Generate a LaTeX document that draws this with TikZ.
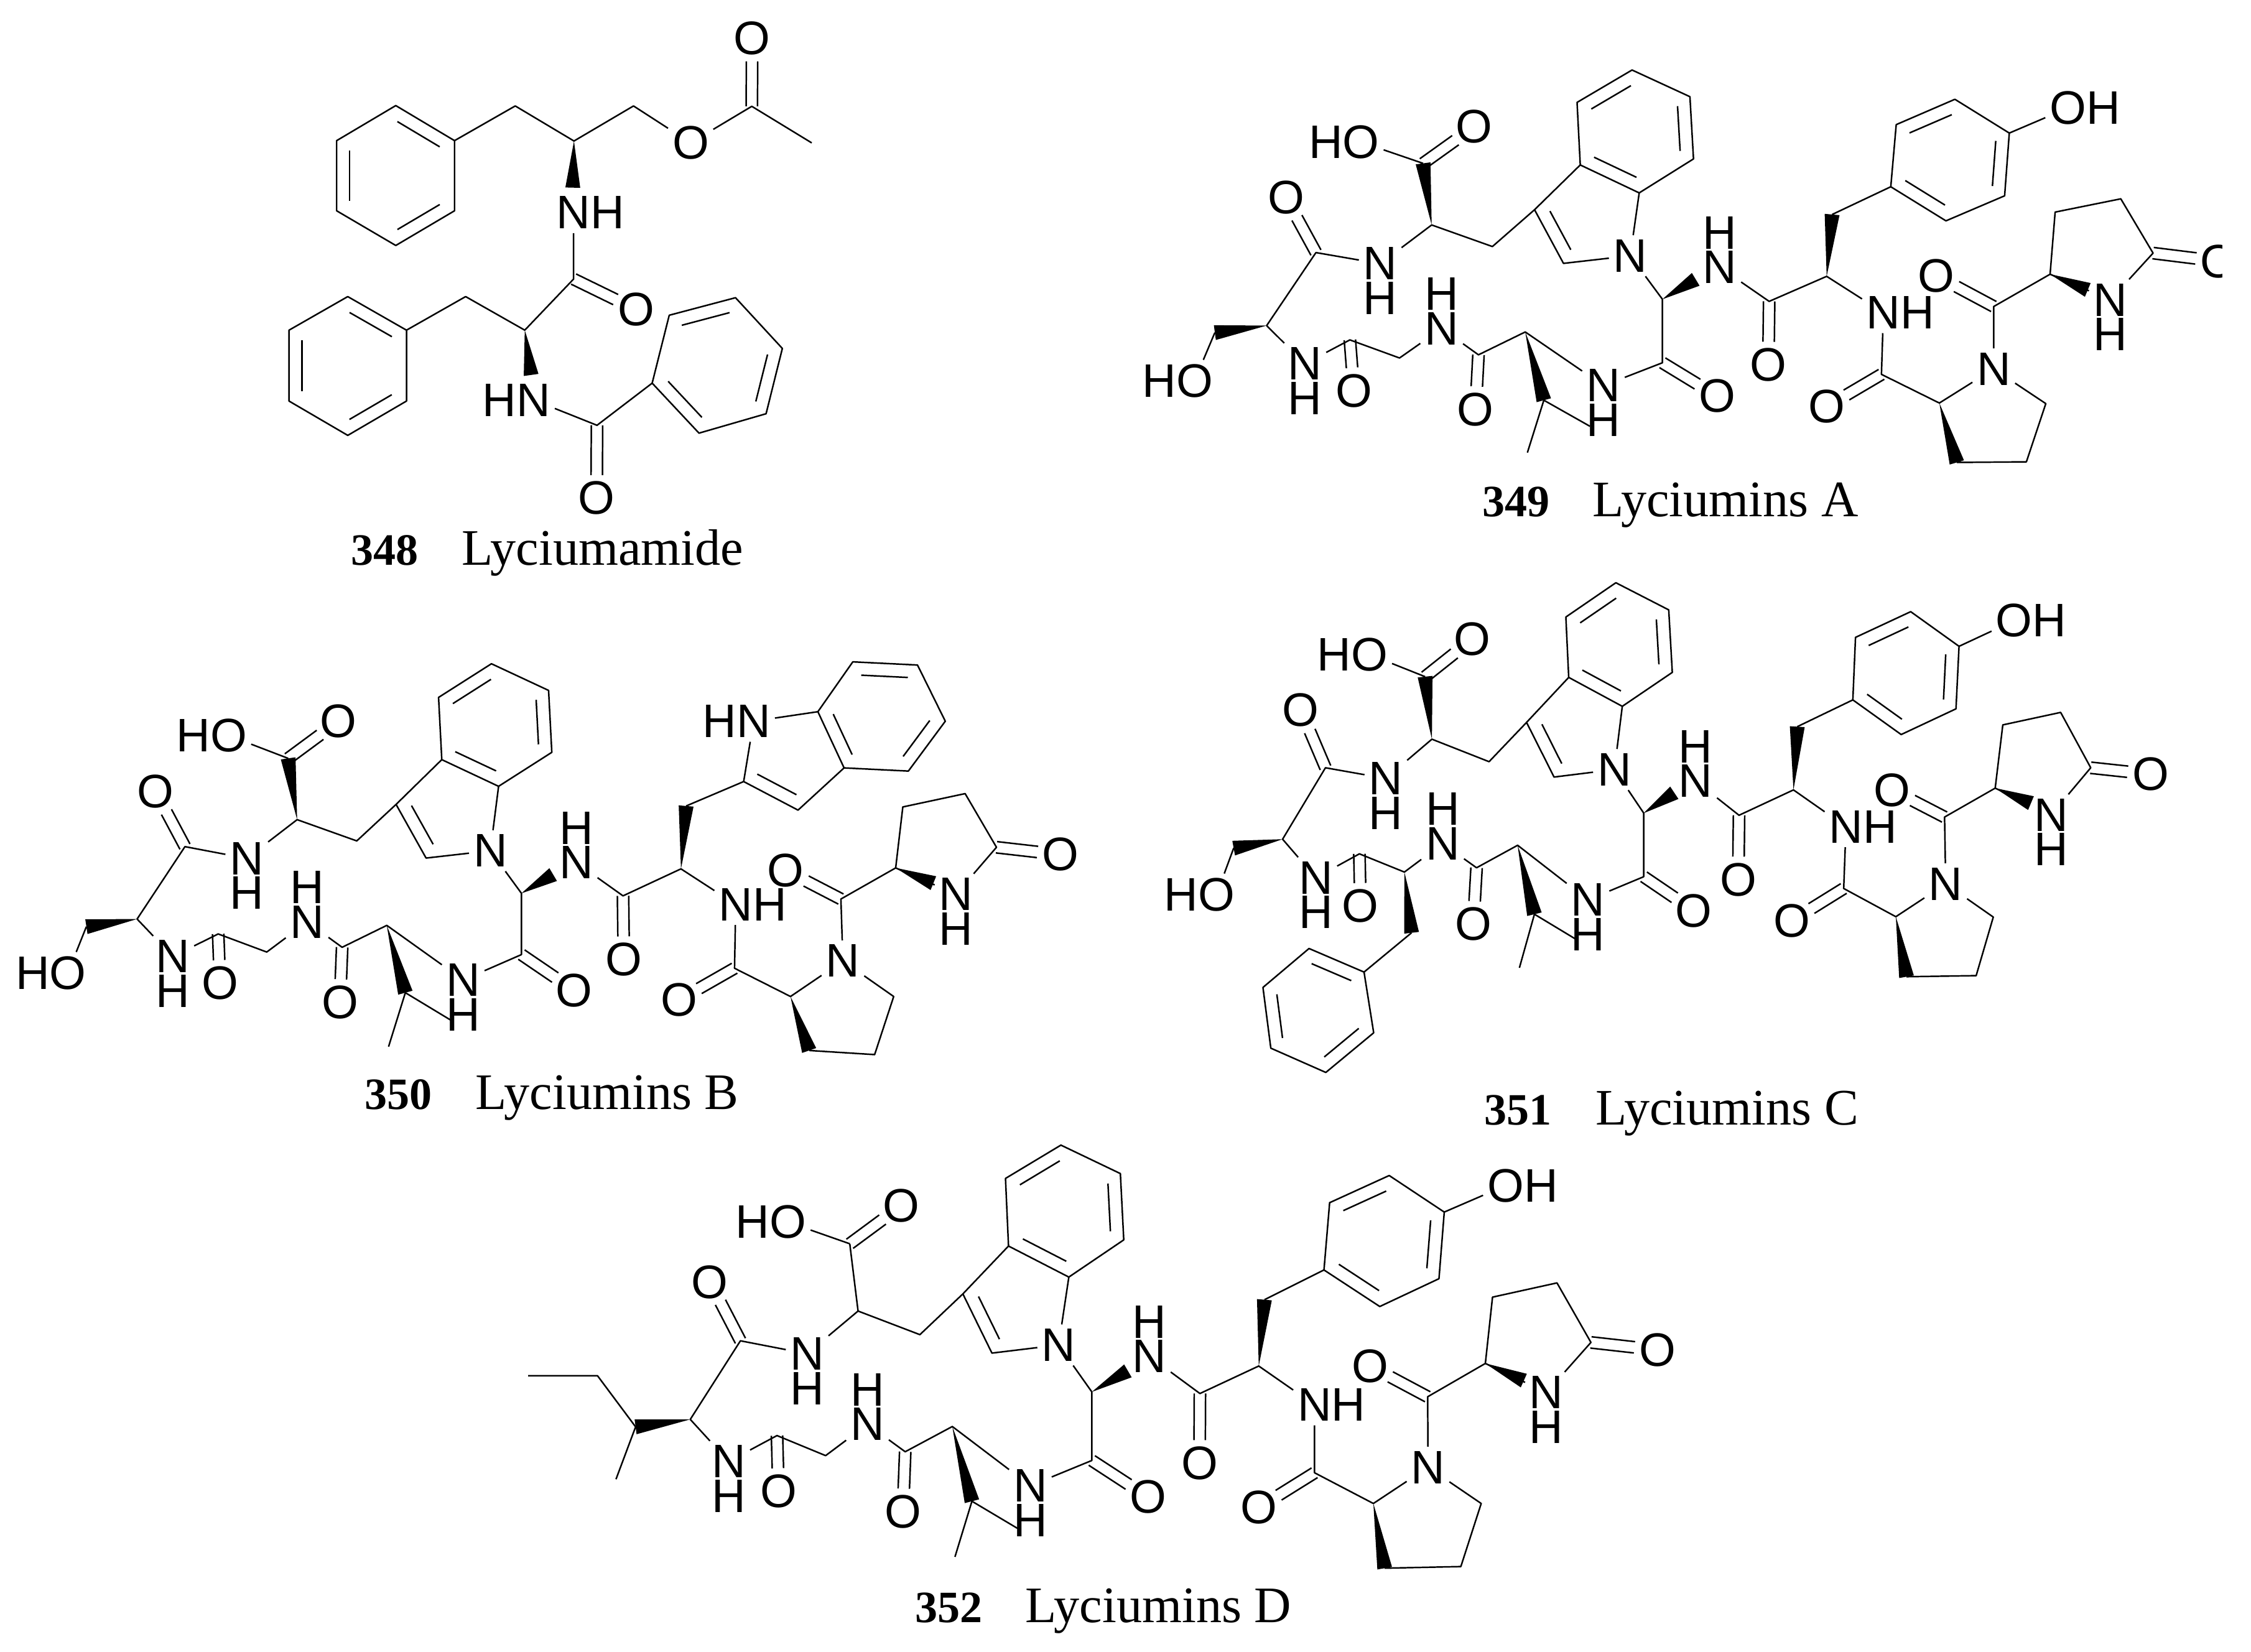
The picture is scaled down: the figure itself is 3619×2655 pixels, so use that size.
\documentclass[tikz,border=0pt]{standalone}
\usepackage{fontspec}
\setmainfont{Liberation Serif}
\newfontfamily\atomfont{Liberation Sans}
\usetikzlibrary{calc}
\usetikzlibrary{positioning}
\tikzset{
  bond/.style={line width=.7pt,line join=round},
  atom/.style={font=\atomfont\fontsize{21.5}{21.5}\selectfont,inner sep=2pt,outer sep=0pt},
  hbelow/.style={atom,below=-3pt of #1},
  habove/.style={atom,above=-3pt of #1},
  hright/.style={atom,right=-4pt of #1},
  hleft/.style={atom,left=-4pt of #1},
  molnum/.style={font=\bfseries\fontsize{20.5}{20.5}\selectfont,anchor=base west,inner sep=0pt},
  molname/.style={font=\fontsize{23.4}{23.4}\selectfont,anchor=base west,inner sep=0pt},
  crop/.style n args={4}{shift={(#1,#2)},x=#3/1568*0.28453pt,y=-#4/1568*0.28453pt}
}
\newcommand\carbons[1]{\foreach \n/\x/\y in {#1} {\coordinate (\n) at (\x,\y);}}
\newcommand\atoms[1]{\foreach \n/\x/\y/\t in {#1} {\node[atom] (\n) at (\x,\y) {\t};}}
\newcommand\ringdbl[2]{\draw[bond] ($(#1)!.14!(#2)!5.9pt!90:(#2)$) -- ($(#1)!.86!(#2)!5.9pt!90:(#2)$);}
\newcommand\cdbl[2]{
  \draw[bond,shorten >=10.5pt] ($(#1)!2.6pt!90:(#2)$) -- ($(#2)!2.6pt!-90:(#1)$);
  \draw[bond,shorten >=10.5pt] ($(#1)!2.6pt!-90:(#2)$) -- ($(#2)!2.6pt!90:(#1)$);
}
\newcommand\wedgeb[2]{\fill[black] (#1) -- ($(#2)!3.4pt!90:(#1)$) -- ($(#2)!3.4pt!-90:(#1)$) -- cycle;}
\newcommand\corebonds{
  \draw[bond] (i1) -- (i2) -- (i3) -- (i4) -- (i5) -- (i6) -- cycle;
  \draw[bond] (i6) -- (i7) -- (i8) -- (na) -- (i5);
  \draw[bond] (i7) -- (c1) -- (c2) -- (n1) -- (c4) -- (c5) -- (n2) -- (c7) -- (c8) -- (n3) -- (c9) -- (c10) -- (n4) -- (c12) -- (c13) -- (na);
  \draw[bond] (oh1) -- (c3);
  \draw[bond] (me) -- (c11) -- (hend);
  \draw[bond] (n5) -- (d1) -- (d2) -- (n6) -- (d4) -- (p1) -- (np) -- (e1) -- (e2) -- (n7) -- (e5) -- (e4) -- (e3) -- (e2);
  \draw[bond] (np) -- (p2) -- (p3) -- (p4);
  \ringdbl{i2}{i1} \ringdbl{i4}{i3} \ringdbl{i6}{i5} \ringdbl{i7}{i8}
  \cdbl{c3}{oa} \cdbl{c4}{o4} \cdbl{c7}{o7} \cdbl{c9}{o9} \cdbl{c12}{o12}
  \cdbl{d1}{od1} \cdbl{d4}{od4} \cdbl{e1}{oe1} \cdbl{e5}{oe5}
  \wedgeb{c5}{c6} \wedgeb{c10}{c11} \wedgeb{c13}{wn5} \wedgeb{d2}{d3} \wedgeb{p1}{p4} \wedgeb{e2}{wn7}
}
\newcommand\tyrbonds{
  \draw[bond] (t1) -- (t2) -- (t3) -- (t4) -- (t5) -- (t6) -- cycle;
  \draw[bond] (d3) -- (t1);
  \draw[bond] (t4) -- (oh);
  \ringdbl{t1}{t2} \ringdbl{t3}{t4} \ringdbl{t5}{t6}
}
\begin{document}
\begin{tikzpicture}[x=0.01cm,y=-0.01cm]
  \useasboundingbox (0,0) rectangle (3619,2655);

  % 348
  \begin{scope}[crop={420}{0}{1000}{940}]
    \carbons{a1/339/283,a2/487/377,a3/487/565,a4/339/658,a5/190/565,a6/190/377,
      c1/640/284,c2/788/378,c3/938/284,c4/1236/285,c5/1387/383,c6/787/748,c7/664/885,c8/515/795,c9/846/1140,
      w1/785/503,w2/680/1005,
      b1/366/885,b2/366/1075,b3/218/1167,b4/70/1075,b5/70/885,b6/218/795,
      r1/985/1027,r2/1103/1161,r3/1272/1109,r4/1313/934,r5/1195/798,r6/1028/845}
    \atoms{o1/1082/383/O,o2/1237/103/O,n1/787/570/N,o3/945/830/O,n2/686/1072/N,o4/845/1335/O}
    \node[hright=n1] (hn1) {H};
    \node[hleft=n2] (hn2) {H};
    \node[molnum] (num348) at (225,1515) {348};
    \node[molname] (name348) at (505,1515) {Lyciumamide};
  \end{scope}
  \draw[bond] (a1) -- (a2) -- (a3) -- (a4) -- (a5) -- (a6) -- cycle;
  \draw[bond] (b1) -- (b2) -- (b3) -- (b4) -- (b5) -- (b6) -- cycle;
  \draw[bond] (r1) -- (r2) -- (r3) -- (r4) -- (r5) -- (r6) -- cycle;
  \draw[bond] (a2) -- (c1) -- (c2) -- (c3) -- (o1) -- (c4) -- (c5);
  \draw[bond] (n1) -- (c6) -- (c7) -- (c8) -- (b1);
  \draw[bond] (n2) -- (c9) -- (r1);
  \ringdbl{a2}{a1} \ringdbl{a4}{a3} \ringdbl{a6}{a5}
  \ringdbl{b1}{b6} \ringdbl{b3}{b2} \ringdbl{b5}{b4}
  \ringdbl{r1}{r2} \ringdbl{r3}{r4} \ringdbl{r5}{r6}
  \cdbl{c4}{o2} \cdbl{c6}{o3} \cdbl{c9}{o4}
  \wedgeb{c2}{w1} \wedgeb{c7}{w2}

  % 349
  \begin{scope}[crop={1840}{60}{900}{800}]
    \carbons{i1/1211/205,i2/1365/103,i3/1527/187,i4/1537/383,i5/1385/490,i6/1220/402,i7/1092/543,i8/1173/712,
      c1/974/659,c2/804/591,c3/780/397,c4/480/678,c5/342/908,c6/197/930,c7/575/953,c8/714/1010,c9/935/1000,
      c10/1066/928,c11/1118/1143,me/1072/1308,hend/1247/1225,c12/1450/1025,c13/1450/825}
    \atoms{na/1360/688/N,oh1/606/330/O,oa/923/282/O,n1/660/713/N,o4/396/505/O,n2/449/1028/N,o7/586/1113/O,
      n3/832/917/N,o9/927/1172/O,n4/1285/1097/N,oh6/140/1082/O}
    \node[molnum] (num349) at (945,1510) {349};
    \node[molname] (name349) at (1253,1510) {Lyciumins A};
  \end{scope}
  \begin{scope}[crop={2640}{100}{979}{760}]
    \carbons{d1/327/793,d2/475/710,d3/489/505,d4/616/1035,e1/905/810,e2/1050/703,e3/1063/497,e4/1232/453,e5/1315/633,
      p1/765/1130,p2/1039/1132,p3/989/1325,p4/810/1327,
      t1/640/413,t2/782/526,t3/933/443,t4/945/235,t5/805/123,t6/654/207,wn5/138/720,wn7/1147/755}
    \atoms{o12/193/1107/O,n5/200/680/N,od1/325/1003/O,n6/621/830/N,od4/475/1142/O,np/905/1017/N,oe1/757/708/O,
      n7/1205/788/N,oh/1096/152/O}
    \begin{scope}
      \clip (1300,500) rectangle (1493,800);
      \node[atom] (oe5) at (1484,660) {O};
    \end{scope}
  \end{scope}
  \node[hbelow=n1] (hn1) {H};
  \node[hbelow=n2] (hn2) {H};
  \node[habove=n3] (hn3) {H};
  \node[hbelow=n4] (hn4) {H};
  \node[habove=n5] (hn5) {H};
  \node[hright=n6] (hn6) {H};
  \node[hbelow=n7] (hn7) {H};
  \node[hleft=oh1] (ho1) {H};
  \node[hleft=oh6] (ho6) {H};
  \node[hright=oh] (hoh) {H};
  \corebonds
  \tyrbonds
  \wedgeb{c2}{c3}
  \draw[bond] (c6) -- (oh6);

  % 350
  \begin{scope}[crop={20}{1060}{900}{800}]
    \carbons{i1/1193/120,i2/1341/14,i3/1501/98,i4/1510/293,i5/1361/400,i6/1202/316,i7/1074/457,i8/1158/626,
      c1/964/572,c2/797/505,c3/772/312,c4/483/590,c5/349/818,c6/207/842,c7/576/865,c8/712/922,c9/923/907,
      c10/1048/838,c11/1100/1050,me/1053/1220,hend/1228/1137,c12/1425/930,c13/1425/737}
    \atoms{na/1338/603/N,oh1/605/240/O,oa/913/195/O,n1/656/627/N,o4/401/417/O,n2/449/936/N,o7/581/1020/O,
      n3/825/827/N,o9/917/1080/O,n4/1262/1010/N,oh6/155/988/O}
    \node[molnum] (num350) at (985,1418) {350};
    \node[molname] (name350) at (1296,1418) {Lyciumins B};
  \end{scope}
  \begin{scope}[crop={800}{1060}{1000}{800}]
    \carbons{d1/316/745,d2/462/660,d3/475/462,d4/597/973,e1/865/755,e2/1003/657,e3/1021/465,e4/1178/423,e5/1257/592,
      p1/738/1062,p2/998/1062,p3/950/1245,p4/785/1232,wn5/140/678,wn7/1098/705,
      g1/620/385,g2/757/475,g3/873/342,g4/807/165,g5/895/8,g6/1058/18,g7/1128/195,g8/1035/352}
    \atoms{o12/193/1043/O,n5/198/640/N,od1/318/945/O,n6/600/772/N,od4/457/1073/O,np/870/950/N,oe1/726/665/O,
      n7/1155/740/N,oe5/1418/615/O,ng/645/195/N}
  \end{scope}
  \node[hbelow=n1] (hn1) {H};
  \node[hbelow=n2] (hn2) {H};
  \node[habove=n3] (hn3) {H};
  \node[hbelow=n4] (hn4) {H};
  \node[habove=n5] (hn5) {H};
  \node[hright=n6] (hn6) {H};
  \node[hbelow=n7] (hn7) {H};
  \node[hleft=oh1] (ho1) {H};
  \node[hleft=oh6] (ho6) {H};
  \node[hleft=ng] (hng) {H};
  \corebonds
  \wedgeb{c2}{c3}
  \draw[bond] (c6) -- (oh6);
  \draw[bond] (g3) -- (g4) -- (g5) -- (g6) -- (g7) -- (g8) -- cycle;
  \draw[bond] (d3) -- (g1) -- (g2) -- (g3);
  \draw[bond] (g1) -- (ng) -- (g4);
  \ringdbl{g1}{g2} \ringdbl{g4}{g3} \ringdbl{g6}{g5} \ringdbl{g8}{g7}

  % 351
  \begin{scope}[crop={1880}{930}{900}{900}]
    \carbons{i1/1110/108,i2/1250/12,i3/1398/88,i4/1408/263,i5/1268/358,i6/1118/277,i7/1000/403,i8/1077/556,
      c1/895/513,c2/735/450,c3/716/275,c4/437/530,c5/317/730,c6/180/755,c7/532/771,c8/658/822,c9/860/810,
      c10/975/747,c11/1022/940,me/980/1090,hend/1138/1010,c12/1328/835,c13/1328/657,c14/678/992,
      b1/545/1102,b2/572/1272,b3/438/1383,b4/284/1315,b5/262/1145,b6/391/1036}
    \atoms{na/1246/535/N,oh1/560/213/O,oa/848/170/O,n1/606/560/N,o4/368/368/O,n2/410/838/N,o7/535/917/O,
      n3/765/742/N,o9/851/968/O,n4/1172/900/N,oh6/132/885/O,o12/1468/930/O}
    \node[molnum] (num351) at (880,1530) {351};
    \node[molname] (name351) at (1192,1530) {Lyciumins C};
  \end{scope}
  \begin{scope}[crop={2660}{930}{959}{900}]
    \carbons{d1/222/663,d2/365/592,d3/375/415,d4/497/868,e1/762/668,e2/895/587,e3/915/410,e4/1067/375,e5/1146/530,
      p1/634/947,p2/890/948,p3/845/1112,p4/662/1115,
      t1/521/340,t2/648/437,t3/792/365,t4/800/190,t5/673/93,t6/528/165,wn5/52/600,wn7/989/629}
    \atoms{n5/108/567/N,od1/220/843/O,n6/503/695/N,od4/361/958/O,np/765/855/N,oe1/624/592/O,
      n7/1042/662/N,oe5/1303/548/O,oh/945/118/O}
  \end{scope}
  \node[hbelow=n1] (hn1) {H};
  \node[hbelow=n2] (hn2) {H};
  \node[habove=n3] (hn3) {H};
  \node[hbelow=n4] (hn4) {H};
  \node[habove=n5] (hn5) {H};
  \node[hright=n6] (hn6) {H};
  \node[hbelow=n7] (hn7) {H};
  \node[hleft=oh1] (ho1) {H};
  \node[hleft=oh6] (ho6) {H};
  \node[hright=oh] (hoh) {H};
  \corebonds
  \tyrbonds
  \wedgeb{c2}{c3}
  \wedgeb{c8}{c14}
  \draw[bond] (c6) -- (oh6);
  \draw[bond] (b1) -- (b2) -- (b3) -- (b4) -- (b5) -- (b6) -- cycle;
  \draw[bond] (c14) -- (b1);
  \ringdbl{b1}{b6} \ringdbl{b3}{b2} \ringdbl{b5}{b4}

  % 352
  \begin{scope}[crop={840}{1840}{950}{815}]
    \carbons{i1/1281/105,i2/1428/2,i5/1449/410,i6/1289/314,i7/1168/462,i8/1245/645,
      c1/1054/588,c2/890/515,c3/868/307,c4/578/607,c5/445/850,c6/300/873,s1/199/715,s2/15/715,s3/248/1035,
      c7/675/900,c8/804/962,c9/1015/950,c10/1140/872,c11/1192/1103,me/1147/1275,hend/1313/1187,c12/1510/977,c13/1510/765}
    \atoms{na/1422/620/N,oh1/704/240/O,oa/1004/190/O,n1/755/647/N,o4/497/425/O,n2/547/980/N,o7/679/1072/O,
      n3/915/865/N,o9/1009/1135/O,n4/1347/1055/N}
    \node[molnum] (num352) at (1040,1478) {352};
    \node[molname] (name352) at (1333,1478) {Lyciumins D};
  \end{scope}
  \begin{scope}[crop={1780}{1840}{950}{815}]
    \carbons{i3/35/90,i4/44/295,d1/246/770,d2/402/685,d3/417/480,d4/550/1015,e1/850/780,e2/1003/677,e3/1022/472,
      e4/1193/428,e5/1283/612,p1/706/1110,p2/992/1110,p3/938/1305,p4/736/1310,
      t1/575/388,t2/723/501,t3/880/415,t4/894/209,t5/748/96,t6/590/180,wn5/55/700,wn7/1105/730}
    \atoms{o12/108/1090/O,n5/112/655/N,od1/245/985/O,n6/550/805/N,od4/403/1122/O,np/851/998/N,oe1/697/685/O,
      n7/1165/767/N,oe5/1459/635/O,oh/1057/127/O}
  \end{scope}
  \node[hbelow=n1] (hn1) {H};
  \node[hbelow=n2] (hn2) {H};
  \node[habove=n3] (hn3) {H};
  \node[hbelow=n4] (hn4) {H};
  \node[habove=n5] (hn5) {H};
  \node[hright=n6] (hn6) {H};
  \node[hbelow=n7] (hn7) {H};
  \node[hleft=oh1] (ho1) {H};
  \node[hright=oh] (hoh) {H};
  \corebonds
  \tyrbonds
  \draw[bond] (c2) -- (c3);
  \draw[bond] (s2) -- (s1) -- (c6) -- (s3);
\end{tikzpicture}
\end{document}
